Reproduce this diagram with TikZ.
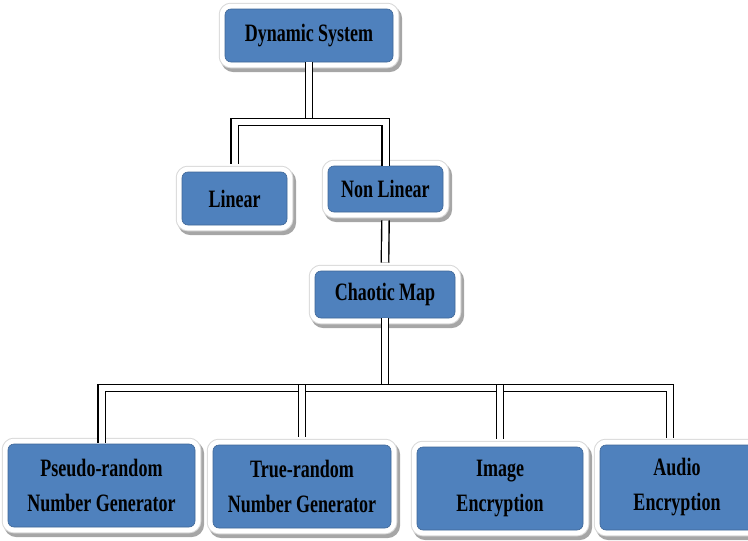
\documentclass[tikz,border=0pt]{standalone}
\usepackage{fontspec}
\setmainfont{Liberation Serif}[FakeStretch=0.72]
\usetikzlibrary{positioning}
\definecolor{boxblue}{RGB}{79,129,189}

\begin{document}
\begin{tikzpicture}[x=1pt, y=-1pt,
  box/.style={rectangle, rounded corners=6pt, fill=boxblue, draw=boxblue!80!black,
    line width=0.6pt, align=center, inner sep=0pt,
    font=\fontsize{25}{35}\selectfont\bfseries,
    preaction={draw=black!35, line width=13pt, transform canvas={shift={(2.5pt,-3.5pt)}}},
    preaction={draw=black!15, line width=12.5pt},
    preaction={draw=white, line width=10.5pt}},
  pipe/.style={draw=black, line width=1.4pt, double=white, double distance=6pt}]
\useasboundingbox (0,0) rectangle (748,541);
\clip (0,0) rectangle (748,541);

% boxes
\node[box, minimum width=168, minimum height=53] (dyn) at (309,35.5) {Dynamic System};
\node[box, minimum width=105, minimum height=53] (lin) at (234.5,198.5) {Linear};
\node[box, minimum width=115, minimum height=46] (nonlin) at (385.5,189) {Non Linear};
\node[box, minimum width=140, minimum height=47] (chaos) at (385,294.5) {Chaotic Map};
\node[box, minimum width=187, minimum height=83] (prng) at (101.5,485.5) {Pseudo-random\\Number Generator};
\node[box, minimum width=178, minimum height=83] (trng) at (302,486.5) {True-random\\Number Generator};
\node[box, minimum width=166, minimum height=83] (img) at (500,488.5) {Image\\Encryption};
\node[box, minimum width=154, minimum height=85] (audio) at (677,487.5) {Audio\\Encryption};

% pipes
\coordinate (bar1) at (309,122);
\coordinate (bar1top) at (309,117.5);
\coordinate (bar2) at (386,388);
\coordinate (bar2top) at (386,383.5);
\coordinate (audarm) at ([xshift=-7pt]audio.north);
\draw[pipe] ([yshift=8pt]lin.north) -- (lin.north |- bar1) -- (nonlin.north |- bar1) -- (nonlin.north);
\draw[pipe] (dyn.south) -- (dyn.south |- bar1top);
\draw[pipe] ([yshift=-8pt]nonlin.south) -- ([yshift=8pt]chaos.north);
\draw[pipe] ([yshift=1pt]prng.north) -- (prng.north |- bar2) -- (audarm |- bar2) -- ([yshift=7pt]audarm);
\draw[pipe] (chaos.south) -- (chaos.south |- bar2top);
\foreach \n in {trng,img}
  \draw[pipe] (\n.north |- bar2) ++(0,-3) -- ([yshift=8pt]\n.north);
\end{tikzpicture}
\end{document}
